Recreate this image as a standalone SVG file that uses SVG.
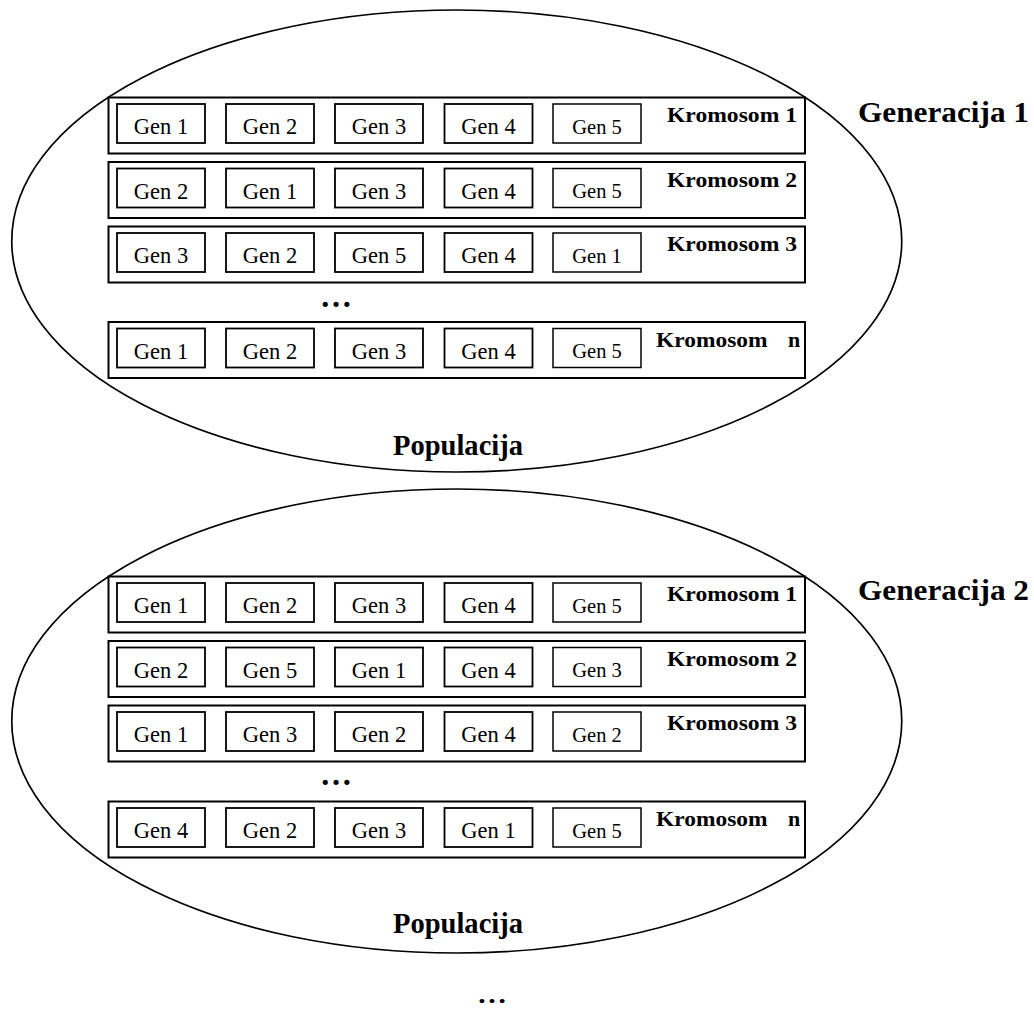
<svg xmlns="http://www.w3.org/2000/svg" width="1034" height="1010" viewBox="0 0 1034 1010">
<style>
.pop{fill:none;stroke:#000;stroke-width:1.7}
.row{fill:#fff;stroke:#000;stroke-width:2}
.gene{fill:#fff;stroke:#000;stroke-width:1.8}
.g5{stroke-width:1.5}
text{font-family:"Liberation Serif","Times New Roman",serif;fill:#000}
.gt{font-size:22.5px;text-anchor:middle}
.gt5{font-size:20.5px;text-anchor:middle}
.kt{font-size:22px;font-weight:bold}
.big{font-size:30px;font-weight:bold}
.dots{font-size:32px;font-weight:bold;text-anchor:middle}
.dots-end{font-size:26px;font-weight:bold;text-anchor:middle}
</style>
<rect width="1034" height="1010" fill="#fff"/>
<g id="connectors"/>

<!-- Generation 1 -->
<g id="population-1">
<ellipse class="pop" cx="456.75" cy="241" rx="445" ry="231"/>
<text class="big" x="393" y="455" textLength="130" lengthAdjust="spacingAndGlyphs">Populacija</text>
</g>
<text id="generacija-1" class="big" x="858" y="122" textLength="171" lengthAdjust="spacingAndGlyphs">Generacija 1</text>

<g id="g1-kromosom-1" transform="translate(0,97.5)">
<rect class="row" x="108.5" y="0" width="696.5" height="56"/>
<rect class="gene" x="117" y="6.5" width="88" height="39"/><text class="gt" x="161" y="36.7">Gen 1</text>
<rect class="gene" x="226" y="6.5" width="88" height="39"/><text class="gt" x="270" y="36.7">Gen 2</text>
<rect class="gene" x="335" y="6.5" width="88" height="39"/><text class="gt" x="379" y="36.7">Gen 3</text>
<rect class="gene" x="444.5" y="6.5" width="88" height="39"/><text class="gt" x="488.5" y="36.7">Gen 4</text>
<rect class="gene g5" x="553" y="6.5" width="88" height="39"/><text class="gt5" x="597" y="36">Gen 5</text>
<text class="kt" x="667" y="24.5" textLength="130" lengthAdjust="spacingAndGlyphs">Kromosom 1</text>
</g>
<g id="g1-kromosom-2" transform="translate(0,162)">
<rect class="row" x="108.5" y="0" width="696.5" height="56"/>
<rect class="gene" x="117" y="6.5" width="88" height="39"/><text class="gt" x="161" y="36.7">Gen 2</text>
<rect class="gene" x="226" y="6.5" width="88" height="39"/><text class="gt" x="270" y="36.7">Gen 1</text>
<rect class="gene" x="335" y="6.5" width="88" height="39"/><text class="gt" x="379" y="36.7">Gen 3</text>
<rect class="gene" x="444.5" y="6.5" width="88" height="39"/><text class="gt" x="488.5" y="36.7">Gen 4</text>
<rect class="gene g5" x="553" y="6.5" width="88" height="39"/><text class="gt5" x="597" y="36">Gen 5</text>
<text class="kt" x="667" y="24.5" textLength="130" lengthAdjust="spacingAndGlyphs">Kromosom 2</text>
</g>
<g id="g1-kromosom-3" transform="translate(0,226.5)">
<rect class="row" x="108.5" y="0" width="696.5" height="56"/>
<rect class="gene" x="117" y="6.5" width="88" height="39"/><text class="gt" x="161" y="36.7">Gen 3</text>
<rect class="gene" x="226" y="6.5" width="88" height="39"/><text class="gt" x="270" y="36.7">Gen 2</text>
<rect class="gene" x="335" y="6.5" width="88" height="39"/><text class="gt" x="379" y="36.7">Gen 5</text>
<rect class="gene" x="444.5" y="6.5" width="88" height="39"/><text class="gt" x="488.5" y="36.7">Gen 4</text>
<rect class="gene g5" x="553" y="6.5" width="88" height="39"/><text class="gt5" x="597" y="36">Gen 1</text>
<text class="kt" x="667" y="24.5" textLength="130" lengthAdjust="spacingAndGlyphs">Kromosom 3</text>
</g>
<text id="g1-dots" class="dots" x="336" y="307">…</text>
<g id="g1-kromosom-n" transform="translate(0,322)">
<rect class="row" x="108.5" y="0" width="696.5" height="56"/>
<rect class="gene" x="117" y="6.5" width="88" height="39"/><text class="gt" x="161" y="36.7">Gen 1</text>
<rect class="gene" x="226" y="6.5" width="88" height="39"/><text class="gt" x="270" y="36.7">Gen 2</text>
<rect class="gene" x="335" y="6.5" width="88" height="39"/><text class="gt" x="379" y="36.7">Gen 3</text>
<rect class="gene" x="444.5" y="6.5" width="88" height="39"/><text class="gt" x="488.5" y="36.7">Gen 4</text>
<rect class="gene g5" x="553" y="6.5" width="88" height="39"/><text class="gt5" x="597" y="36">Gen 5</text>
<text class="kt" x="656" y="24.5" textLength="111.5" lengthAdjust="spacingAndGlyphs">Kromosom</text>
<text class="kt" x="788" y="24.5">n</text>
</g>

<!-- Generation 2 -->
<g id="population-2">
<ellipse class="pop" cx="456.75" cy="721" rx="445" ry="232"/>
<text class="big" x="393" y="933" textLength="130" lengthAdjust="spacingAndGlyphs">Populacija</text>
</g>
<text id="generacija-2" class="big" x="858" y="600" textLength="171" lengthAdjust="spacingAndGlyphs">Generacija 2</text>

<g id="g2-kromosom-1" transform="translate(0,576.5)">
<rect class="row" x="108.5" y="0" width="696.5" height="56"/>
<rect class="gene" x="117" y="6.5" width="88" height="39"/><text class="gt" x="161" y="36.7">Gen 1</text>
<rect class="gene" x="226" y="6.5" width="88" height="39"/><text class="gt" x="270" y="36.7">Gen 2</text>
<rect class="gene" x="335" y="6.5" width="88" height="39"/><text class="gt" x="379" y="36.7">Gen 3</text>
<rect class="gene" x="444.5" y="6.5" width="88" height="39"/><text class="gt" x="488.5" y="36.7">Gen 4</text>
<rect class="gene g5" x="553" y="6.5" width="88" height="39"/><text class="gt5" x="597" y="36">Gen 5</text>
<text class="kt" x="667" y="24.5" textLength="130" lengthAdjust="spacingAndGlyphs">Kromosom 1</text>
</g>
<g id="g2-kromosom-2" transform="translate(0,641)">
<rect class="row" x="108.5" y="0" width="696.5" height="56"/>
<rect class="gene" x="117" y="6.5" width="88" height="39"/><text class="gt" x="161" y="36.7">Gen 2</text>
<rect class="gene" x="226" y="6.5" width="88" height="39"/><text class="gt" x="270" y="36.7">Gen 5</text>
<rect class="gene" x="335" y="6.5" width="88" height="39"/><text class="gt" x="379" y="36.7">Gen 1</text>
<rect class="gene" x="444.5" y="6.5" width="88" height="39"/><text class="gt" x="488.5" y="36.7">Gen 4</text>
<rect class="gene g5" x="553" y="6.5" width="88" height="39"/><text class="gt5" x="597" y="36">Gen 3</text>
<text class="kt" x="667" y="24.5" textLength="130" lengthAdjust="spacingAndGlyphs">Kromosom 2</text>
</g>
<g id="g2-kromosom-3" transform="translate(0,705.5)">
<rect class="row" x="108.5" y="0" width="696.5" height="56"/>
<rect class="gene" x="117" y="6.5" width="88" height="39"/><text class="gt" x="161" y="36.7">Gen 1</text>
<rect class="gene" x="226" y="6.5" width="88" height="39"/><text class="gt" x="270" y="36.7">Gen 3</text>
<rect class="gene" x="335" y="6.5" width="88" height="39"/><text class="gt" x="379" y="36.7">Gen 2</text>
<rect class="gene" x="444.5" y="6.5" width="88" height="39"/><text class="gt" x="488.5" y="36.7">Gen 4</text>
<rect class="gene g5" x="553" y="6.5" width="88" height="39"/><text class="gt5" x="597" y="36">Gen 2</text>
<text class="kt" x="667" y="24.5" textLength="130" lengthAdjust="spacingAndGlyphs">Kromosom 3</text>
</g>
<text id="g2-dots" class="dots" x="336" y="785">…</text>
<g id="g2-kromosom-n" transform="translate(0,801.5)">
<rect class="row" x="108.5" y="0" width="696.5" height="56"/>
<rect class="gene" x="117" y="6.5" width="88" height="39"/><text class="gt" x="161" y="36.7">Gen 4</text>
<rect class="gene" x="226" y="6.5" width="88" height="39"/><text class="gt" x="270" y="36.7">Gen 2</text>
<rect class="gene" x="335" y="6.5" width="88" height="39"/><text class="gt" x="379" y="36.7">Gen 3</text>
<rect class="gene" x="444.5" y="6.5" width="88" height="39"/><text class="gt" x="488.5" y="36.7">Gen 1</text>
<rect class="gene g5" x="553" y="6.5" width="88" height="39"/><text class="gt5" x="597" y="36">Gen 5</text>
<text class="kt" x="656" y="24.5" textLength="111.5" lengthAdjust="spacingAndGlyphs">Kromosom</text>
<text class="kt" x="788" y="24.5">n</text>
</g>

<text id="more-generations" class="dots-end" x="492" y="1003" textLength="30" lengthAdjust="spacingAndGlyphs">…</text>
</svg>
